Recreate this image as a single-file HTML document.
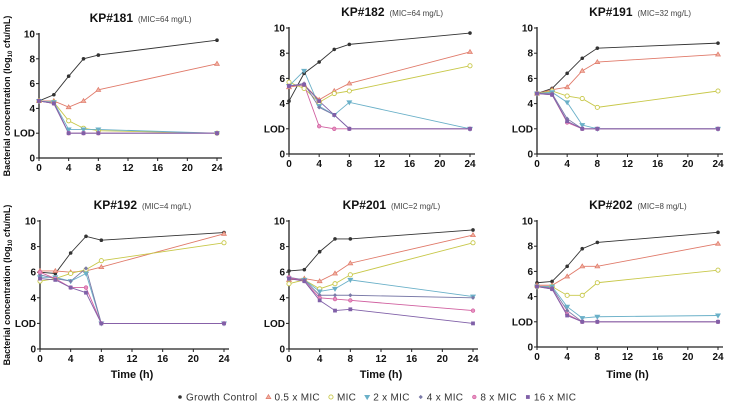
<!DOCTYPE html>
<html><head><meta charset="utf-8"><style>
html,body{margin:0;padding:0;background:#fff;}
svg{display:block;font-family:"Liberation Sans",sans-serif;}
</style></head><body>
<svg id="c" width="729" height="411" viewBox="0 0 729 411"></svg>
<script>
const times=[0,2,4,6,8,24];
const seriesNames=["Growth Control","0.5 x MIC","MIC","2 x MIC","4 x MIC","8 x MIC","16 x MIC"];
const panelTitles=["KP#181","KP#182","KP#191","KP#192","KP#201","KP#202"];
const panelMics=["(MIC=64 mg/L)","(MIC=64 mg/L)","(MIC=32 mg/L)","(MIC=4 mg/L)","(MIC=2 mg/L)","(MIC=8 mg/L)"];
const yTicks=[0,2,4,6,8,10];
const yTickLabels=["0","LOD","4","6","8","10"];
const xTicks=[0,4,8,12,16,20,24];
const kp181=[[4.6,5.1,6.6,8.0,8.3,9.5],[4.6,4.6,4.1,4.6,5.5,7.6],[4.6,4.5,3.0,2.4,2.2,2.0],[4.6,4.5,2.3,2.3,2.3,2.0],[4.6,4.4,2.0,2.0,2.0,2.0],[4.6,4.4,2.0,2.0,2.0,2.0],[4.6,4.4,2.0,2.0,2.0,2.0]];
const kp182=[[4.2,6.4,7.3,8.3,8.7,9.6],[5.3,5.5,4.3,5.0,5.6,8.1],[5.7,5.2,4.1,4.8,5.0,7.0],[5.4,6.6,3.8,3.1,4.1,2.0],[5.4,5.6,3.7,3.1,2.0,2.0],[5.4,5.5,2.2,2.0,2.0,2.0],[5.4,5.5,4.2,3.1,2.0,2.0]];
const kp191=[[4.8,5.2,6.4,7.6,8.4,8.8],[4.8,5.1,5.3,6.6,7.3,7.9],[4.8,5.0,4.6,4.4,3.7,5.0],[4.8,4.9,4.1,2.3,2.0,2.0],[4.8,4.8,2.8,2.0,2.0,2.0],[4.8,4.7,2.5,2.0,2.0,2.0],[4.8,4.7,2.6,2.0,2.0,2.0]];
const kp192=[[6.0,5.9,7.5,8.8,8.5,9.1],[6.1,6.1,6.0,6.1,6.4,9.0],[5.3,5.5,5.9,6.2,6.9,8.3],[5.6,5.6,5.3,5.9,2.0,2.0],[5.8,5.5,5.3,6.3,2.0,2.0],[6.0,5.5,4.8,4.8,2.0,2.0],[5.5,5.4,4.8,4.4,2.0,2.0]];
const kp201=[[6.1,6.2,7.6,8.6,8.6,9.3],[5.4,5.5,5.3,5.9,6.7,8.9],[5.1,5.4,4.7,5.1,5.8,8.3],[5.5,5.4,4.5,4.7,5.4,4.1],[5.6,5.4,4.2,4.2,4.2,4.0],[5.6,5.3,4.0,3.9,3.8,3.0],[5.5,5.3,3.8,3.0,3.1,2.0]];
const kp202=[[5.1,5.2,6.4,7.8,8.3,9.1],[4.9,4.9,5.6,6.4,6.4,8.2],[4.8,4.8,4.1,4.1,5.1,6.1],[4.8,4.8,3.2,2.3,2.4,2.5],[4.8,4.7,2.9,2.0,2.0,2.0],[4.8,4.6,2.6,2.0,2.0,2.0],[4.8,4.6,2.5,2.0,2.0,2.0]];
const panelData=[kp181,kp182,kp191,kp192,kp201,kp202];

const colors=["#333","#e07a6a","#c8c84a","#6ab0c8","#7a7aa8","#d060a0","#8060a8"];
const fills=["#333","#f0b0a0","#fff","#6ab0c8","#7a7aa8","#e890c0","#8060a8"];
const geo=[{x0:39,x1:217,yt:34,yb:158},{x0:289,x1:470,yt:28,yb:154},{x0:537,x1:718,yt:28,yb:154},
{x0:40,x1:224,yt:221,yb:349},{x0:289,x1:473,yt:221,yb:349},{x0:537,x1:718,yt:221,yb:347}];
const svg=document.getElementById('c');
const NS="http://www.w3.org/2000/svg";
function mk(tag,attrs,parent){const e=document.createElementNS(NS,tag);for(const k in attrs)e.setAttribute(k,attrs[k]);(parent||svg).appendChild(e);return e;}
function marker(k,x,y,g){
  let e;const c=colors[k],f=fills[k];
  if(k===0)e=mk('circle',{cx:x,cy:y,r:1.8,fill:c},g);
  else if(k===1)e=mk('polygon',{points:`${x},${y-2.4} ${x-2.4},${y+1.6} ${x+2.4},${y+1.6}`,fill:f,stroke:c,'stroke-width':0.7},g);
  else if(k===2)e=mk('circle',{cx:x,cy:y,r:2.1,fill:'#fff',stroke:c,'stroke-width':0.9},g);
  else if(k===3)e=mk('polygon',{points:`${x},${y+2.4} ${x-2.4},${y-1.6} ${x+2.4},${y-1.6}`,fill:f,stroke:c,'stroke-width':0.7},g);
  else if(k===4)e=mk('polygon',{points:`${x},${y-2.1} ${x+2.1},${y} ${x},${y+2.1} ${x-2.1},${y}`,fill:f},g);
  else if(k===5)e=mk('circle',{cx:x,cy:y,r:1.8,fill:f,stroke:c,'stroke-width':0.7},g);
  else e=mk('rect',{x:x-1.9,y:y-1.9,width:3.8,height:3.8,fill:f},g);
  return e;
}
panelData.forEach((data,p)=>{
  const G=geo[p];
  const g=mk('g',{});
  
  
  const sx=t=>G.x0+(G.x1-G.x0)*t/24;
  const sy=v=>G.yb-(G.yb-G.yt)*v/10;
  const cx=(G.x0+G.x1)/2;
  const tt=mk('text',{x:cx+5,y:G.yt-12,'text-anchor':'end','font-size':12,'font-weight':'bold',fill:'#111'},g);
  tt.textContent=panelTitles[p];
  
  
  const tm=mk('text',{x:cx+10,y:G.yt-12,'font-size':8,fill:'#444'},g);
  tm.textContent=panelMics[p];
  
  
  mk('line',{x1:G.x0,y1:G.yt-1,x2:G.x0,y2:G.yb,stroke:'#222','stroke-width':1.3},g);
  mk('line',{x1:G.x0,y1:G.yb,x2:G.x1+5,y2:G.yb,stroke:'#222','stroke-width':1.3},g);
  yTicks.forEach((v,i)=>{
    mk('line',{x1:G.x0-3,y1:sy(v),x2:G.x0,y2:sy(v),stroke:'#222'},g);
    const t=mk('text',{x:G.x0-4,y:sy(v)+3.5,'text-anchor':'end','font-size':10,'font-weight':'bold',fill:'#111'},g);
    t.textContent=yTickLabels[i];
    
    
  });
  xTicks.forEach(v=>{
    mk('line',{x1:sx(v),y1:G.yb,x2:sx(v),y2:G.yb+3,stroke:'#222'},g);
    const t=mk('text',{x:sx(v),y:G.yb+13,'text-anchor':'middle','font-size':10,'font-weight':'bold',fill:'#111'},g);
    t.textContent=v;
    
    
  });
  data.forEach((vals,k)=>{
    const pts=vals.map((v,i)=>sx(times[i])+','+sy(v)).join(' ');
    const l=mk('polyline',{points:pts,fill:'none',stroke:colors[k],'stroke-width':0.9},g);
    
    
  });
  data.forEach((vals,k)=>{
    vals.forEach((v,i)=>{
      const m=marker(k,sx(times[i]),sy(v),g);
      
      
    });
  });
  if(p%3===0){
    const yl=mk('text',{x:0,y:0,'text-anchor':'middle','font-size':9,'font-weight':'bold',fill:'#111',transform:`translate(10,${(G.yt+G.yb)/2}) rotate(-90)`},g);
    yl.innerHTML='Bacterial concentration (log<tspan font-size="6" dy="2">10</tspan><tspan dy="-2"> cfu/mL)</tspan>';
    
    
  }
  if(p>=3){
    const xl=mk('text',{x:cx,y:378,'text-anchor':'middle','font-size':11,'font-weight':'bold',fill:'#111'},g);
    xl.textContent='Time (h)';
    
    
  }
});
const lg=mk('g',{});


let lx=180;
seriesNames.forEach((n,k)=>{
  const m=marker(k,lx,397,lg);
  
  
  const t=mk('text',{x:lx+6,y:400.5,'font-size':10,'letter-spacing':0.3,fill:'#333'},lg);
  t.textContent=n;
  
  
  lx+=6+t.getComputedTextLength()+11;
});
</script>
</body></html>
